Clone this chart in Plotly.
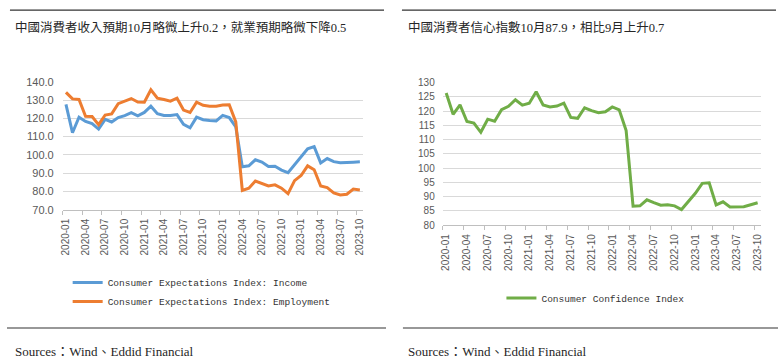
import plotly.graph_objects as go

# ---------------- data ----------------
months = [f"{y}-{m:02d}" for y in range(2020, 2024) for m in range(1, 13)][:46]

income = [127.6, 112.1, 120.6, 118.3, 117.1, 114.1, 119.4, 118.0, 120.4, 121.5,
          123.1, 121.3, 123.2, 126.6, 122.5, 121.5, 121.5, 122.0, 116.7, 114.8,
          120.6, 119.2, 118.8, 118.6, 121.6, 120.4, 115.3, 93.5, 94.0, 97.3,
          96.1, 93.6, 93.8, 91.7, 90.3, 94.7, 98.9, 103.3, 104.5, 95.6,
          98.0, 96.3, 95.7, 95.7, 96.0, 96.2]

employment = [134.2, 130.6, 130.3, 121.1, 121.0, 116.5, 121.8, 122.4, 128.0, 129.2,
              130.8, 128.9, 128.8, 135.6, 131.0, 130.3, 129.4, 131.0, 124.5, 123.2,
              128.8, 127.1, 126.6, 126.6, 127.3, 127.4, 118.0, 80.6, 81.8, 85.7,
              84.3, 83.0, 83.6, 81.8, 78.8, 85.9, 88.7, 94.0, 91.9, 83.0,
              82.1, 79.2, 78.1, 78.5, 81.3, 80.8]

confidence = [126.4, 118.9, 122.2, 116.4, 115.8, 112.6, 117.2, 116.5, 120.5, 121.7,
              124.0, 122.1, 122.8, 126.8, 122.2, 121.5, 121.8, 122.8, 117.8, 117.5,
              121.2, 120.2, 119.5, 119.8, 121.5, 120.5, 113.2, 86.7, 86.8, 88.9,
              87.9, 87.0, 87.2, 86.8, 85.5, 88.3, 91.2, 94.7, 94.9, 87.1,
              88.2, 86.4, 86.4, 86.5, 87.2, 87.9]

tick_labels = ["2020-01", "2020-04", "2020-07", "2020-10",
               "2021-01", "2021-04", "2021-07", "2021-10",
               "2022-01", "2022-04", "2022-07", "2022-10",
               "2023-01", "2023-04", "2023-07", "2023-10"]

left_title = "中國消費者收入預期10月略微上升0.2，就業預期略微下降0.5"
right_title = "中國消費者信心指數10月87.9，相比9月上升0.7"
source_text = "Sources：Wind、Eddid Financial"

# ---------------- helpers ----------------
W, H = 782, 364
def px(x):
    return x / W
def py(y):
    return 1 - y / H

idx = list(range(len(months)))
tick_idx = [months.index(t) for t in tick_labels]
bound_idx = [i - 0.5 for i in tick_idx]

LEG_FONT = dict(family="Liberation Mono, DejaVu Sans Mono, monospace", size=9.5, color="#333333")
TICK_FONT = dict(family="Liberation Sans, Arial, sans-serif", size=10, color="#595959")
TEXT_FONT = dict(family="Liberation Serif, Noto Sans CJK TC, serif", size=12.5, color="#262626")
SRC_FONT = dict(family="Liberation Serif, Noto Sans CJK TC, serif", size=13, color="#262626")

fig = go.Figure()
fig.add_trace(go.Scatter(x=idx, y=income, mode="lines",
                         line=dict(color="#5B9BD5", width=3),
                         name="Consumer Expectations Index: Income",
                         xaxis="x", yaxis="y", legend="legend"))
fig.add_trace(go.Scatter(x=idx, y=employment, mode="lines",
                         line=dict(color="#ED7D31", width=3),
                         name="Consumer Expectations Index: Employment",
                         xaxis="x", yaxis="y", legend="legend"))
fig.add_trace(go.Scatter(x=idx, y=confidence, mode="lines",
                         line=dict(color="#70AD47", width=3),
                         name="Consumer Confidence Index",
                         xaxis="x2", yaxis="y2", legend="legend2"))

def xaxis_cfg(domain, anchor):
    return dict(domain=domain, anchor=anchor, type="linear", range=[-0.5, 45.5],
                tickmode="array", tickvals=tick_idx, ticktext=tick_labels,
                tickangle=-90, showgrid=False, zeroline=False,
                showline=True, linecolor="#bfbfbf", linewidth=1,
                ticks="outside", ticklen=4, tickcolor="rgba(0,0,0,0)",
                tickfont=TICK_FONT, fixedrange=True,
                minor=dict(tickmode="array", tickvals=bound_idx, ticks="outside",
                           ticklen=4, tickwidth=1, tickcolor="#bfbfbf", showgrid=False))

fig.update_layout(
    width=W, height=H,
    margin=dict(l=0, r=0, t=0, b=0),
    paper_bgcolor="white", plot_bgcolor="white",
    showlegend=True,
    xaxis=xaxis_cfg([px(61), px(363)], "y"),
    xaxis2=xaxis_cfg([px(443), px(763)], "y2"),
    yaxis=dict(domain=[py(210.7), py(78.3)], anchor="x", range=[70, 140],
               tickmode="linear", tick0=70, dtick=10, tickformat=".1f",
               showgrid=True, gridcolor="#d9d9d9", gridwidth=1, zeroline=False,
               showline=False, ticks="", ticklabelstandoff=8,
               tickfont=dict(family="Liberation Sans, Arial, sans-serif", size=11, color="#595959"),
               fixedrange=True),
    yaxis2=dict(domain=[py(226.7), py(79.3)], anchor="x2", range=[80, 130],
                tickmode="linear", tick0=80, dtick=5,
                showgrid=True, gridcolor="#d9d9d9", gridwidth=1, zeroline=False,
                showline=False, ticks="", ticklabelstandoff=7,
                tickfont=TICK_FONT, fixedrange=True),
    legend=dict(x=px(66), y=py(271), xanchor="left", yanchor="top",
                font=LEG_FONT, bgcolor="rgba(0,0,0,0)", borderwidth=0,
                tracegroupgap=0, itemwidth=30),
    legend2=dict(x=px(502), y=py(287), xanchor="left", yanchor="top",
                 font=LEG_FONT, bgcolor="rgba(0,0,0,0)", borderwidth=0,
                 itemwidth=30),
    shapes=[
        dict(type="line", xref="paper", yref="paper", x0=px(8), x1=px(384),
             y0=py(4.3), y1=py(4.3), line=dict(color="#333333", width=1.2)),
        dict(type="line", xref="paper", yref="paper", x0=px(402), x1=px(778),
             y0=py(4.3), y1=py(4.3), line=dict(color="#333333", width=1.2)),
        dict(type="line", xref="paper", yref="paper", x0=px(5), x1=px(386),
             y0=py(333), y1=py(333), line=dict(color="#333333", width=1.2)),
        dict(type="line", xref="paper", yref="paper", x0=px(403), x1=px(780),
             y0=py(333), y1=py(333), line=dict(color="#333333", width=1.2)),
    ],
    annotations=[
        dict(text=left_title, xref="paper", yref="paper", x=px(11), y=py(22),
             xanchor="left", yanchor="middle", showarrow=False, font=TEXT_FONT),
        dict(text=right_title, xref="paper", yref="paper", x=px(406), y=py(22),
             xanchor="left", yanchor="middle", showarrow=False, font=TEXT_FONT),
        dict(text=source_text, xref="paper", yref="paper", x=px(11), y=py(357),
             xanchor="left", yanchor="middle", showarrow=False, font=SRC_FONT),
        dict(text=source_text, xref="paper", yref="paper", x=px(406), y=py(357),
             xanchor="left", yanchor="middle", showarrow=False, font=SRC_FONT),
    ],
)

fig.write_html("out.html", config={"displayModeBar": False},
               post_script="document.body.style.margin='0';document.body.style.padding='0';")
